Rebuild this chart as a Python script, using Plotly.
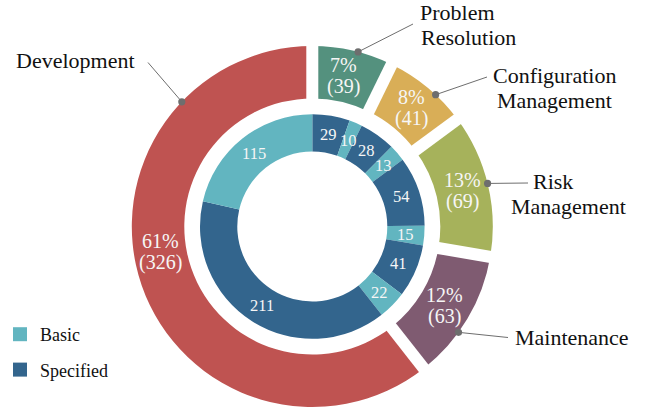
import math
import plotly.graph_objects as go

# ---------------- data ----------------
categories = ["Problem Resolution", "Configuration Management", "Risk Management",
              "Maintenance", "Development"]
category_label_lines = [["Problem", "Resolution"], ["Configuration", "Management"],
                        ["Risk", "Management"], ["Maintenance"], ["Development"]]
specified = [29, 28, 54, 41, 211]
basic = [10, 13, 15, 22, 115]
series_names = ["Basic", "Specified"]

# ---------------- style / layout ----------------
W, H = 646, 409
FONT = "Liberation Serif, Times New Roman, serif"
outer_colors = ["#54917E", "#D9AE57", "#A6B25B", "#7F5B71", "#BF5351"]
series_colors = {"Basic": "#62B5C0", "Specified": "#33658D"}
CX, CY = 312.3, 226.5          # ring centre (px)
R_OUT, R_OUT_HOLE = 180.5, 128.0
R_IN, R_IN_HOLE = 112.3, 75.0
GAP = 12
LEADER_GREY = "#6E6E6E"
# leader anchors: angle on the outer edge (deg clockwise from 12 o'clock),
# end of the leader (px) and the left/centre positions of each label line (px)
leaders = {
    "Problem Resolution": dict(ang=14.7, end=(413, 24), lines=[(420, 13), (421, 37.5)]),
    "Configuration Management": dict(ang=43.1, end=(487, 77), lines=[(493, 76), (497, 100)]),
    "Risk Management": dict(ang=76.2, end=(528, 183), lines=[(533, 182), (511, 207)]),
    "Maintenance": dict(ang=125.9, end=(508, 337.5), lines=[(515, 337)]),
    "Development": dict(ang=313.7, end=(148, 62.5), lines=[(16, 61)]),
}
outer_text_angle_override = {"Problem Resolution": 11.8, "Development": 260.5}


def px2paper(x, y):
    return x / W, 1 - y / H


def polar(r, ang):
    a = math.radians(ang)
    return CX + r * math.sin(a), CY - r * math.cos(a)


def domain(r):
    return dict(x=[(CX - r) / W, (CX + r) / W], y=[1 - (CY + r) / H, 1 - (CY - r) / H])


totals = [s + b for s, b in zip(specified, basic)]
grand = sum(totals)

inner_labels, inner_values, inner_cols = [], [], []
for c, s, b in zip(categories, specified, basic):
    inner_labels += [c + " - Specified", c + " - Basic"]
    inner_values += [s, b]
    inner_cols += [series_colors["Specified"], series_colors["Basic"]]

fig = go.Figure()
fig.add_trace(go.Pie(
    labels=categories, values=totals, sort=False, direction="clockwise", rotation=0,
    hole=R_OUT_HOLE / R_OUT, domain=domain(R_OUT),
    marker=dict(colors=outer_colors, line=dict(width=0)),
    textinfo="none", hoverinfo="label+value+percent", showlegend=False,
))
fig.add_trace(go.Pie(
    labels=inner_labels, values=inner_values, sort=False, direction="clockwise", rotation=0,
    hole=R_IN_HOLE / R_IN, domain=domain(R_IN),
    marker=dict(colors=inner_cols, line=dict(width=0)),
    textinfo="none", hoverinfo="label+value", showlegend=False,
))
for name in series_names:
    fig.add_trace(go.Scatter(
        x=[None], y=[None], mode="markers", name=name, legendgroup=name,
        marker=dict(symbol="square", size=14, color=series_colors[name]),
    ))

shapes, annotations = [], []

# white separators between outer slices
cum = 0
for t in totals:
    ang = cum / grand * 360
    x0, y0 = px2paper(*polar(R_OUT_HOLE - 8, ang))
    x1, y1 = px2paper(*polar(R_OUT + 8, ang))
    shapes.append(dict(type="line", xref="paper", yref="paper", x0=x0, y0=y0, x1=x1, y1=y1,
                       line=dict(color="white", width=GAP)))
    cum += t


def add_text_lines(lines, cx, cy, size, color, spacing, anchor="center"):
    n = len(lines)
    for k, txt in enumerate(lines):
        yy = cy + (k - (n - 1) / 2) * spacing
        x, y = px2paper(cx, yy)
        annotations.append(dict(xref="paper", yref="paper", x=x, y=y, text=txt,
                                showarrow=False, xanchor=anchor, yanchor="middle",
                                font=dict(family=FONT, size=size, color=color)))


# outer slice labels
cum = 0
for c, t in zip(categories, totals):
    mid = (cum + t / 2) / grand * 360
    ang = outer_text_angle_override.get(c, mid)
    px, py = polar((R_OUT + R_OUT_HOLE) / 2, ang)
    pct = round(t / grand * 100)
    add_text_lines([f"{pct}%", f"({t})"], px, py, 20, "#F6F6F6", 21.5)
    cum += t

# inner slice labels
cum = 0
for v in inner_values:
    mid = (cum + v / 2) / grand * 360
    px, py = polar((R_IN + R_IN_HOLE) / 2, mid)
    add_text_lines([str(v)], px, py, 16.5, "#F6F6F6", 0)
    cum += v

# category labels with leader lines
for c, lines in zip(categories, category_label_lines):
    spec = leaders[c]
    dx, dy = polar(R_OUT, spec["ang"])
    ex, ey = spec["end"]
    x0, y0 = px2paper(dx, dy)
    x1, y1 = px2paper(ex, ey)
    shapes.append(dict(type="line", xref="paper", yref="paper", x0=x0, y0=y0, x1=x1, y1=y1,
                       line=dict(color=LEADER_GREY, width=1)))
    ra = 3.6
    a0, b0 = px2paper(dx - ra, dy + ra)
    a1, b1 = px2paper(dx + ra, dy - ra)
    shapes.append(dict(type="circle", xref="paper", yref="paper", x0=a0, y0=b0, x1=a1, y1=b1,
                       fillcolor=LEADER_GREY, line=dict(width=0)))
    for txt, (lx, ly) in zip(lines, spec["lines"]):
        x, y = px2paper(lx, ly)
        annotations.append(dict(xref="paper", yref="paper", x=x, y=y, text=txt,
                                showarrow=False, xanchor="left", yanchor="middle",
                                borderpad=0, borderwidth=0,
                                font=dict(family=FONT, size=22, color="#111111")))

fig.update_layout(
    width=W, height=H, margin=dict(l=0, r=0, t=0, b=0),
    paper_bgcolor="white", plot_bgcolor="white",
    xaxis=dict(visible=False), yaxis=dict(visible=False),
    showlegend=True,
    legend=dict(x=0, y=1 - 316 / H, xanchor="left", yanchor="top",
                font=dict(family=FONT, size=18, color="#111111"),
                tracegroupgap=9, bgcolor="rgba(0,0,0,0)"),
    shapes=shapes, annotations=annotations,
)

fig.write_html("out.html", config={"displayModeBar": False},
               post_script="document.body.style.margin='0px';")
